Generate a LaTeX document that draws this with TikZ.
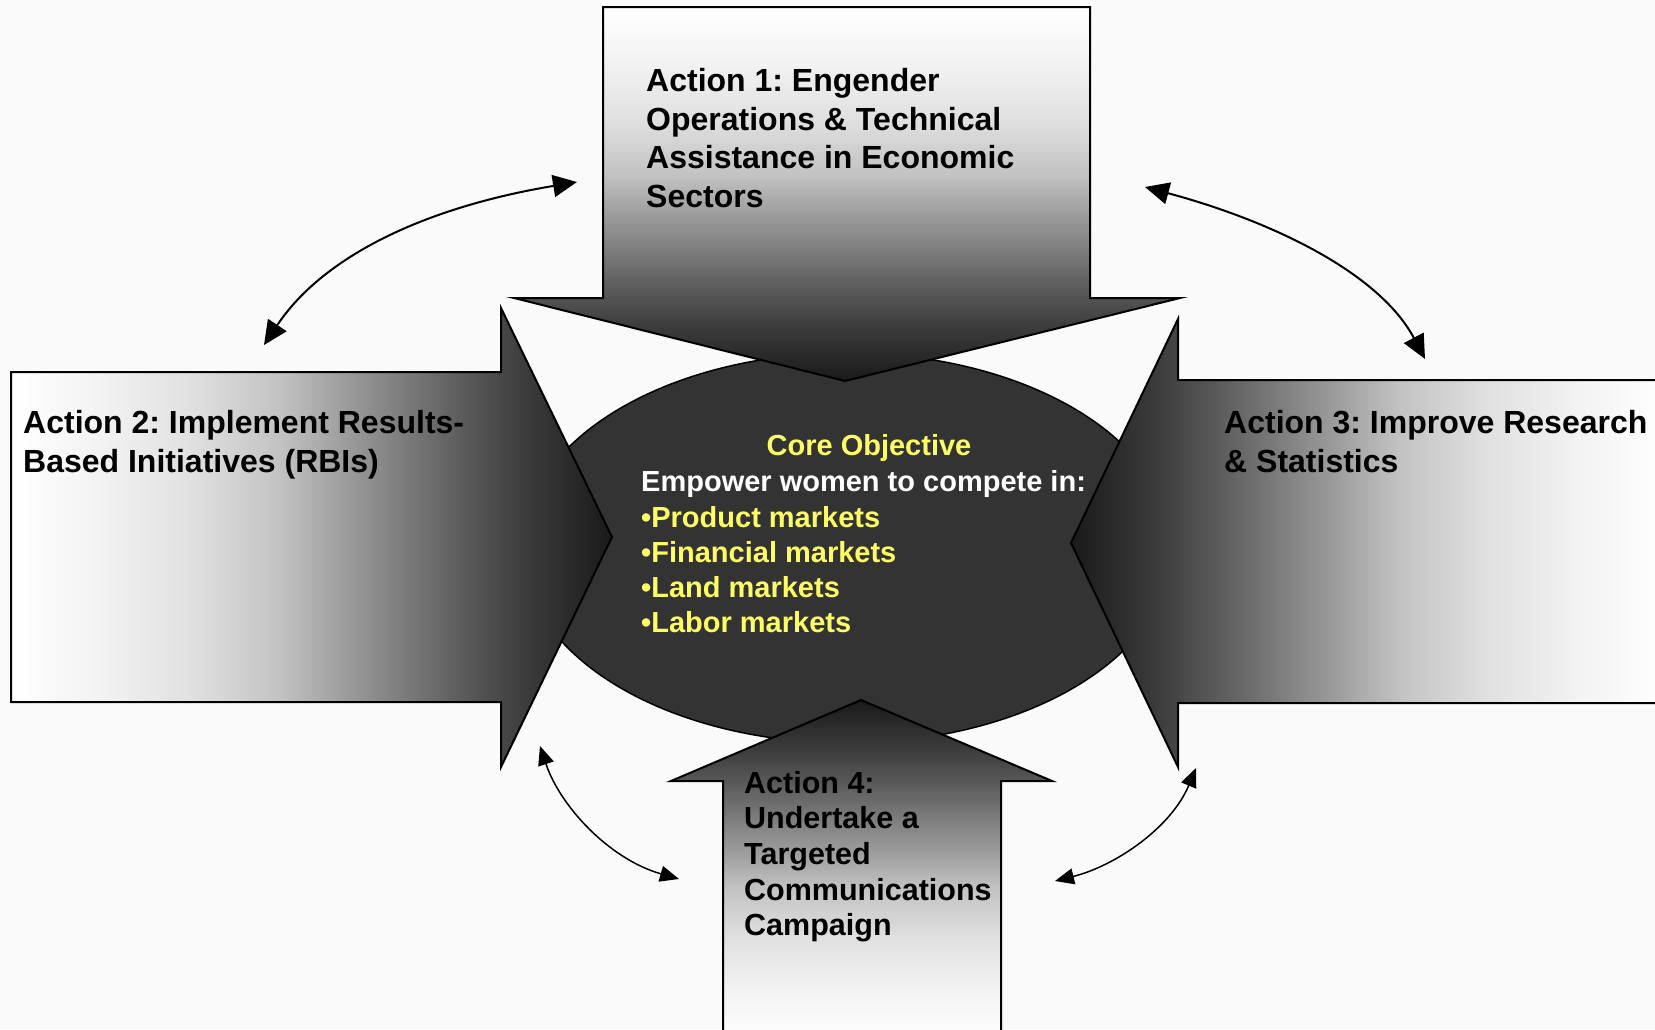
\documentclass[tikz,border=0pt]{standalone}
\usepackage{fontspec}
\setmainfont{Liberation Sans}
\usetikzlibrary{arrows.meta,shapes.geometric}
\pgfdeclarehorizontalshading{arrowshade}{100bp}{color(0bp)=(white); color(25bp)=(white); color(32.5bp)=(black!5); color(40bp)=(black!12); color(47.5bp)=(black!24); color(52.5bp)=(black!38); color(57.5bp)=(black!51); color(62.5bp)=(black!64); color(67.5bp)=(black!76); color(75bp)=(black!90); color(100bp)=(black!90)}
\definecolor{bgcol}{RGB}{250,250,250}
\definecolor{corefill}{RGB}{51,51,51}
\definecolor{coreyellow}{RGB}{255,255,102}
\begin{document}
\frenchspacing
\begin{tikzpicture}[x=1pt,y=-1pt,
  bigarrow/.style={draw=black, line width=2pt, line join=miter, shading=arrowshade},
  acttext/.style={font=\fontsize{32}{38.5}\selectfont\bfseries, align=left, inner sep=0pt, anchor=north west, text=black},
  coretext/.style={font=\fontsize{29}{35.2}\selectfont\bfseries, align=left, inner sep=0pt},
  linkbig/.style={line width=2pt, {Triangle[length=24pt,width=22pt]}-{Triangle[length=24pt,width=22pt]}},
  linksmall/.style={line width=1.5pt, {Triangle[length=19pt,width=16pt]}-{Triangle[length=19pt,width=16pt]}}]
% background and bounding box
\fill[bgcol] (0,0) rectangle (1655,1029);
\useasboundingbox (0,0) rectangle (1655,1029);
% core ellipse
\node[ellipse, draw=black, line width=1.5pt, fill=corefill, minimum width=650pt, minimum height=390pt, inner sep=0pt] (core) at (847,548) {};
% action arrows
\path[bigarrow, shading angle=270] (603,7) -- (1090,7) -- (1090,298) -- (1180,298) -- (845,381) -- (514,298) -- (603,298) -- cycle;
\path[bigarrow, shading angle=0] (11,372) -- (501,372) -- (501,308) -- (612,537) -- (501,767) -- (501,702) -- (11,702) -- cycle;
\path[bigarrow, shading angle=180] (1665,380) -- (1178,380) -- (1178,319) -- (1071,543) -- (1178,767) -- (1178,703) -- (1665,703) -- cycle;
\path[bigarrow, shading angle=90] (723,1040) -- (723,781) -- (671,781) -- (861,700) -- (1052,781) -- (1001,781) -- (1001,1040) -- cycle;
% texts
\node[acttext] (t1) at (646,68.5) {Action 1: Engender\\Operations \& Technical\\Assistance in Economic\\Sectors};
\node[acttext] (t2) at (23,410.5) {Action 2: Implement Results-\\Based Initiatives (RBIs)};
\node[acttext] (t3) at (1224,410.5) {Action 3: Improve Research\\\& Statistics};
\node[acttext, font=\fontsize{30.5}{35.6}\selectfont\bfseries] (t4) at (744,771) {Action 4:\\Undertake a\\Targeted\\Communications\\Campaign};
\node[coretext, anchor=base, text=coreyellow] (coretitle) at (869,455.5) {Core Objective};
\node[coretext, anchor=north west, text=white] (corelist) at (641,470.7) {Empower women to compete in:\\\textcolor{coreyellow}{•Product markets}\\\textcolor{coreyellow}{•Financial markets}\\\textcolor{coreyellow}{•Land markets}\\\textcolor{coreyellow}{•Labor markets}};
% curved links
\coordinate (l1a) at (264,345);
\coordinate (l1b) at (577,182);
\coordinate (l2a) at (1145,187);
\coordinate (l2b) at (1425,359);
\coordinate (l3a) at (540,746);
\coordinate (l3b) at (679,879);
\coordinate (l4a) at (1196,768);
\coordinate (l4b) at (1055,881);
\draw[linkbig] (l1a) .. controls (324,255) and (427,207) .. (l1b);
\draw[linkbig] (l2a) .. controls (1275,222) and (1380,274) .. (l2b);
\draw[linksmall] (l3a) .. controls (560,806) and (609,859) .. (l3b);
\draw[linksmall] (l4a) .. controls (1171,828) and (1115,866) .. (l4b);
\end{tikzpicture}
\end{document}
